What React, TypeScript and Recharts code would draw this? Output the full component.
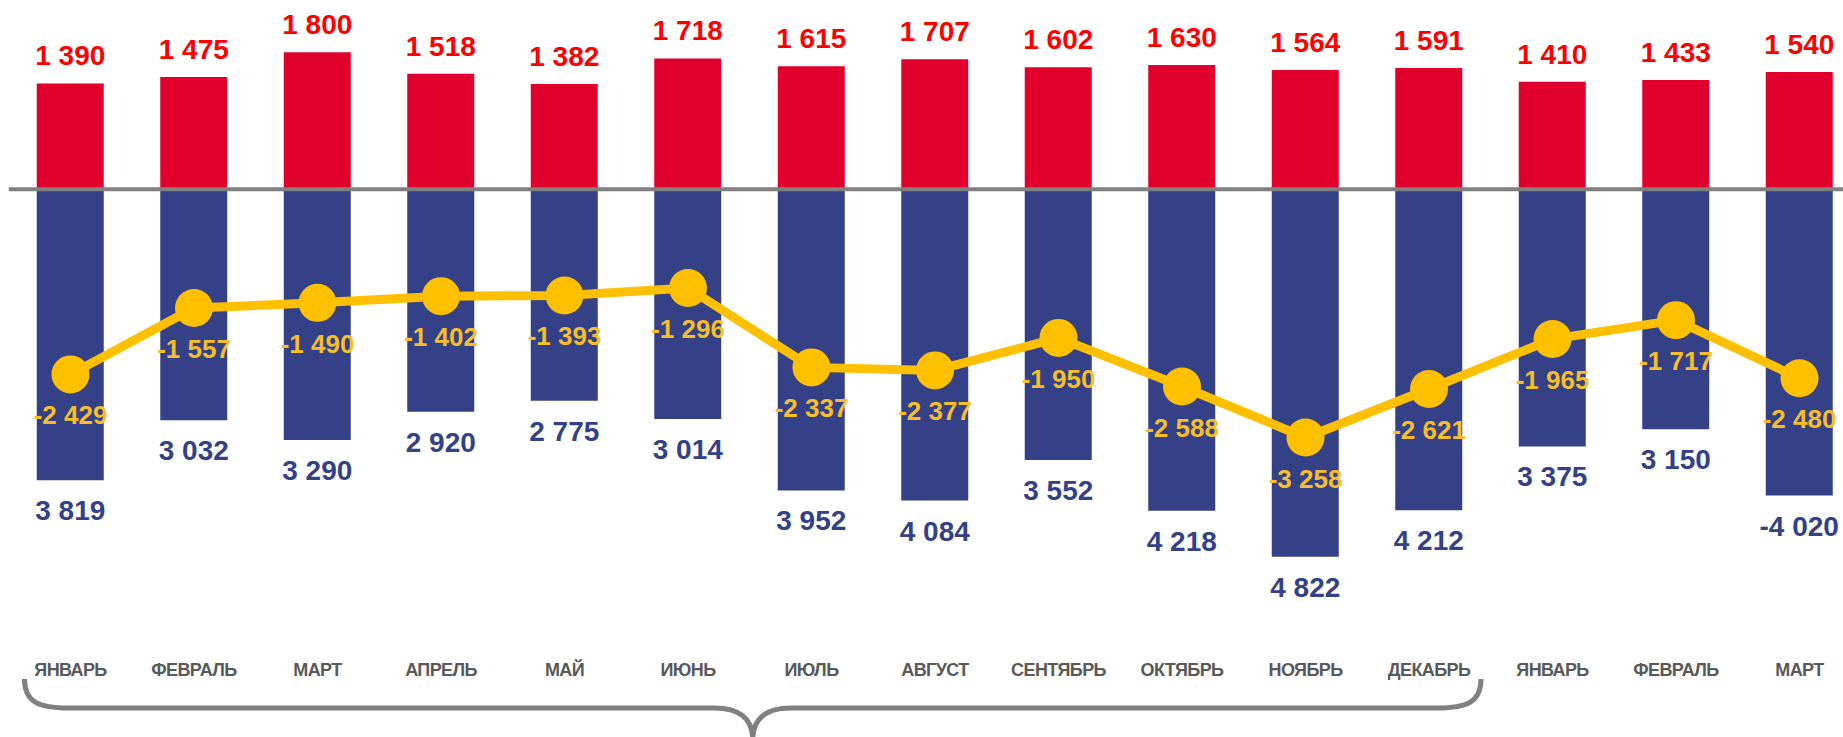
import React from 'react';
import { ComposedChart, Bar, Line, XAxis, YAxis, ReferenceLine, LabelList } from 'recharts';

// ---- data ----
const months = ['ЯНВАРЬ', 'ФЕВРАЛЬ', 'МАРТ', 'АПРЕЛЬ', 'МАЙ', 'ИЮНЬ', 'ИЮЛЬ', 'АВГУСТ', 'СЕНТЯБРЬ', 'ОКТЯБРЬ', 'НОЯБРЬ', 'ДЕКАБРЬ', 'ЯНВАРЬ', 'ФЕВРАЛЬ', 'МАРТ'];
const redValues = [1390, 1475, 1800, 1518, 1382, 1718, 1615, 1707, 1602, 1630, 1564, 1591, 1410, 1433, 1540];
const blueValues = [-3819, -3032, -3290, -2920, -2775, -3014, -3952, -4084, -3552, -4218, -4822, -4212, -3375, -3150, -4020];
const balanceValues = [-2429, -1557, -1490, -1402, -1393, -1296, -2337, -2377, -1950, -2588, -3258, -2621, -1965, -1717, -2480];
// blue labels that keep their minus sign in the original
const blueSignedLabels = [14];
// the brace groups these category indexes
const braceFrom = 0;
const braceTo = 11;

const data = months.map((m, i) => ({
  idx: i,
  red: redValues[i],
  blue: blueValues[i],
  balance: balanceValues[i],
}));

// ---- layout / style ----
const CHART_W = 1862;
const CHART_H = 737;
const M_LEFT = 8.75;
const M_RIGHT = 0.75;
const M_TOP = 36.9;
const X_AXIS_H = 166.7;
const BAND = (CHART_W - M_LEFT - M_RIGHT) / months.length;
const LABEL_BASELINE = 676;
const FONT = '"Liberation Sans", Arial, sans-serif';

const RED = '#E0002B';
const RED_TEXT = '#FF0000';
const BLUE = '#344186';
const YELLOW = '#FFC000';
const YELLOW_TEXT = '#F7BE2C';
const GREY = '#808080';

const fmt = (v: number, signed: boolean) => {
  const s = String(Math.abs(v)).replace(/\B(?=(\d{3})+(?!\d))/g, ' ');
  return signed && v < 0 ? '-' + s : s;
};

const RedLabel = (p: any) => {
  const top = Math.min(p.y, p.y + p.height);
  return (
    <text x={p.x + p.width / 2} y={top - 18} textAnchor="middle" fill={RED_TEXT}
      fontFamily={FONT} fontWeight="bold" fontSize={28}>
      {fmt(p.value, false)}
    </text>
  );
};

const BlueLabel = (p: any) => {
  const bottom = Math.max(p.y, p.y + p.height);
  return (
    <text x={p.x + p.width / 2} y={bottom + 40} textAnchor="middle" fill={BLUE}
      fontFamily={FONT} fontWeight="bold" fontSize={28}>
      {fmt(p.value, blueSignedLabels.includes(p.index))}
    </text>
  );
};

const LineLabel = (p: any) => (
  <text x={p.x} y={p.y + 50} textAnchor="middle" fill={YELLOW_TEXT}
    fontFamily={FONT} fontWeight="bold" fontSize={26}>
    {fmt(p.value, true)}
  </text>
);

const MonthTick = (p: any) => (
  <text x={p.x} y={LABEL_BASELINE} textAnchor="middle" fill="#595959"
    fontFamily={FONT} fontWeight="bold" fontSize={18} letterSpacing={-0.6}>
    {months[p.payload.value]}
  </text>
);

const Brace = () => {
  const c0 = M_LEFT + BAND * (braceFrom + 0.5);
  const c1 = M_LEFT + BAND * (braceTo + 0.5);
  const x0 = c0 - 46;
  const x1 = c1 + 52;
  const mid = (x0 + x1) / 2;
  const yTop = 679;
  const yLine = 708;
  const yTip = 740;
  const d = [
    `M ${x0} ${yTop}`,
    `C ${x0} ${yLine - 6}, ${x0 + 14} ${yLine}, ${x0 + 44} ${yLine}`,
    `L ${mid - 38} ${yLine}`,
    `C ${mid - 14} ${yLine}, ${mid} ${yLine + 10}, ${mid} ${yTip}`,
    `M ${mid} ${yTip}`,
    `C ${mid} ${yLine + 10}, ${mid + 14} ${yLine}, ${mid + 38} ${yLine}`,
    `L ${x1 - 44} ${yLine}`,
    `C ${x1 - 14} ${yLine}, ${x1} ${yLine - 6}, ${x1} ${yTop}`,
  ].join(' ');
  return (
    <svg width={1843} height={737} style={{ position: 'absolute', left: 0, top: 0, pointerEvents: 'none' }}>
      <path d={d} fill="none" stroke={GREY} strokeWidth={5} />
    </svg>
  );
};

export default function App() {
  return (
    <div style={{ position: 'absolute', left: 0, top: 0, width: 1843, height: 737, overflow: 'hidden', background: '#fff' }}>
      <ComposedChart
        width={CHART_W}
        height={CHART_H}
        data={data}
        stackOffset="sign"
        margin={{ top: M_TOP, right: M_RIGHT, bottom: 0, left: M_LEFT }}
      >
        <XAxis dataKey="idx" type="category" axisLine={false} tickLine={false} height={X_AXIS_H}
          tick={<MonthTick />} interval={0} />
        <YAxis hide domain={[-5000, 2000]} allowDataOverflow />
        <Bar dataKey="red" stackId="a" fill={RED} barSize={67} isAnimationActive={false}>
          <LabelList dataKey="red" content={<RedLabel />} />
        </Bar>
        <Bar dataKey="blue" stackId="a" fill={BLUE} barSize={67} isAnimationActive={false}>
          <LabelList dataKey="blue" content={<BlueLabel />} />
        </Bar>
        <ReferenceLine y={0} stroke={GREY} strokeWidth={4} />
        <Line dataKey="balance" type="linear" stroke={YELLOW} strokeWidth={9}
          dot={{ r: 19, fill: YELLOW, stroke: YELLOW, strokeWidth: 0 }} isAnimationActive={false}>
          <LabelList dataKey="balance" content={<LineLabel />} />
        </Line>
      </ComposedChart>
      <Brace />
    </div>
  );
}
